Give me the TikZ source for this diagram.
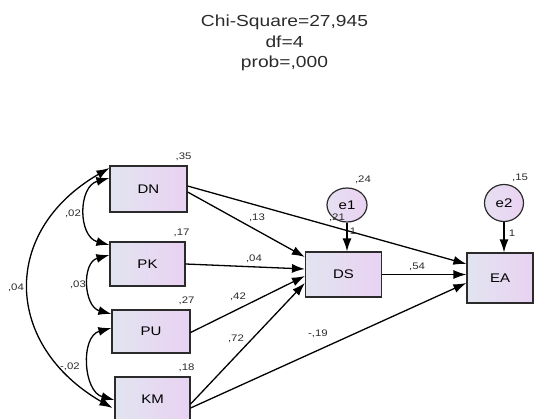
\documentclass[tikz,border=0pt]{standalone}
\usepackage{fontspec}
\setmainfont[FakeStretch=1.2]{Liberation Sans}
\usepackage{tikz}
\usetikzlibrary{positioning}
\usetikzlibrary{arrows.meta}
\usetikzlibrary{shapes.geometric}
\usetikzlibrary{calc}
\definecolor{BoxL}{HTML}{E2E4F0}
\definecolor{BoxR}{HTML}{E9D2F2}
\definecolor{ErrL}{HTML}{E6E0F2}
\definecolor{ErrR}{HTML}{EAD2F2}
\definecolor{Ink}{HTML}{2B2B2B}

\begin{document}
\begin{tikzpicture}[x=1pt,y=1pt,>={Latex[length=13pt,width=9pt]},
	ob/.style={rectangle, draw=Ink, line width=1.2pt, left color=BoxL, right color=BoxR,
		inner sep=0pt, font=\fontsize{12.5}{14}\selectfont},
	error/.style={ellipse, draw=Ink, line width=1.2pt, left color=ErrL, right color=ErrR,
		inner sep=0pt, minimum width=40pt, minimum height=34pt, font=\fontsize{12.5}{14}\selectfont},
	est/.style={inner sep=0pt, text=Ink, font=\fontsize{9.5}{11}\selectfont},
	post/.style={->, draw=black, line width=1.3pt},
	cov/.style={<->, draw=black, line width=1.3pt, looseness=1.25}]

	\useasboundingbox (0,0) rectangle (538,418);
	\clip (0,0) rectangle (538,418);

	% Fit
	\node[anchor=north, align=center, inner sep=0pt, text=Ink,
		font=\fontsize{16}{20.5}\selectfont] (chisq) at (284.5,403)
		{Chi-Square=27,945\\df=4\\prob=,000};

	% Observed
	\node[ob, minimum width=77pt, minimum height=46pt] (DN) at (148.5,229) {DN};
	\node[ob, minimum width=75pt, minimum height=44pt] (PK) at (147.5,154) {PK};
	\node[ob, minimum width=78pt, minimum height=43pt] (PU) at (151,86.5) {PU};
	\node[ob, minimum width=75pt, minimum height=44pt] (KM) at (152.5,19) {KM};
	\node[ob, minimum width=76pt, minimum height=45pt] (DS) at (343.5,143.5) {DS};
	\node[ob, minimum width=66pt, minimum height=50pt] (EA) at (500,140) {EA};
	% Errors
	\node[error] (e1) at (347,213) {e1};
	\node[error, minimum width=39pt, minimum height=37pt] (e2) at (504,215) {e2};

	% Paths
	\path[post] ([yshift=-3pt]DN.east) to ([yshift=17.5pt]DS.west);
	\path[post] ([yshift=3pt]DN.east) to ([yshift=14pt]EA.west);
	\path[post] (PK.east) to ([yshift=5.5pt]DS.west);
	\path[post] ([yshift=-1pt]PU.east) to ([yshift=-1.5pt]DS.west);
	\path[post] ([yshift=-5pt]KM.east) to ([yshift=-8.5pt]DS.west);
	\path[post] ([yshift=-9pt]KM.east) to ([yshift=-5pt]EA.west);
	\path[post] (DS.east) to (DS.east -| EA.west);
	\path[post] (e1) to (e1 |- DS.north);
	\path[post] (e2) to (e2 |- EA.north);

	% Covariances
	\path[cov] ([yshift=11pt]DN.west) to[out=195, in=165] ([yshift=19pt]PK.west);
	\path[cov] ([yshift=9pt]PK.west) to[out=195, in=165] ([yshift=17.5pt]PU.west);
	\path[cov] ([yshift=3.5pt]PU.west) to[out=195, in=165, looseness=1.15] ([yshift=-1pt]KM.west);
	\path[cov] ([yshift=21pt]DN.west) to[out=210, in=150, looseness=1.34] ([xshift=-2pt,yshift=-9pt]KM.west);

	% Variances
	\node[est] (vDN) at ([xshift=-4pt,yshift=9pt]DN.north east) {,35};
	\node[est] (vPK) at ([xshift=-4pt,yshift=9pt]PK.north east) {,17};
	\node[est] (vPU) at ([xshift=-4pt,yshift=9pt]PU.north east) {,27};
	\node[est] (vKM) at ([xshift=-4pt,yshift=9pt]KM.north east) {,18};
	\node[est] (ve1) at (363,238) {,24};
	\node[est] (ve2) at (520,240) {,15};
	\node[est] (rDS) at (337,200) {,21};
	\node[est] (w1) at (353,187) {1};
	\node[est] (w2) at (512,185) {1};

	% Weights
	\node[est] (bDN) at (257,200) {,13};
	\node[est] (bPK) at (254,159) {,04};
	\node[est] (bPU) at (238,121) {,42};
	\node[est] (bKM) at (236,79) {,72};
	\node[est] (bKE) at (318,84) {-,19};
	\node[est] (bDS) at (417,151) {,54};

	\node[est] (c12) at (73,204) {,02};
	\node[est] (c23) at (78,133) {,03};
	\node[est] (c34) at (70,51) {-,02};
	\node[est] (c14) at (16,130) {,04};
\end{tikzpicture}
\end{document}
